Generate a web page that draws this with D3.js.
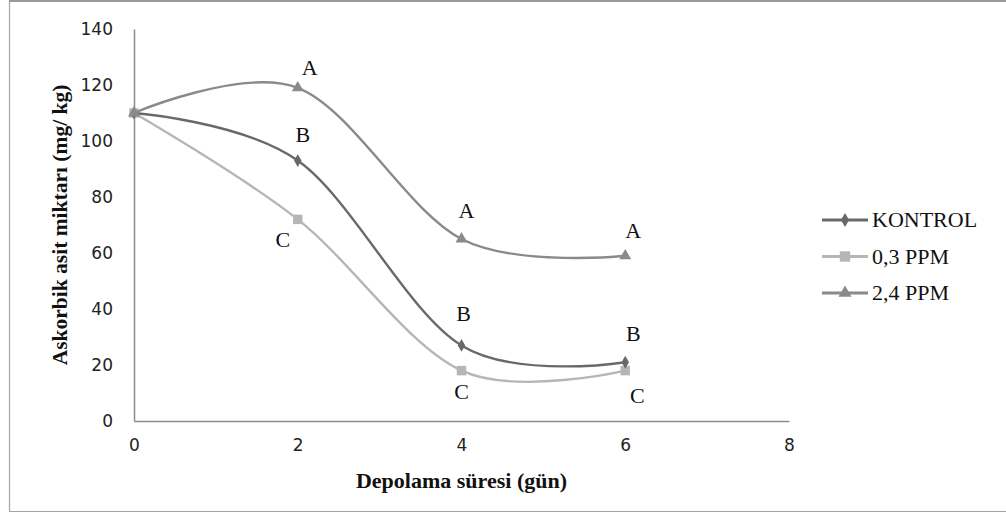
<!DOCTYPE html>
<html>
<head>
<meta charset="utf-8">
<script src="https://cdn.jsdelivr.net/npm/d3@7"></script>
<style>
  body { margin: 0; background: #fff; overflow: hidden; }
  svg { display: block; }
</style>
</head>
<body>
<div id="result"></div>
<script>
const width = 1006;
const height = 514;
const margin = { top: 29, right: 217, bottom: 93, left: 134 };

// data
const days = [0, 2, 4, 6];
const kontrol = [110, 93, 27, 21];
const ppm03 = [110, 72, 18, 18];
const ppm24 = [110, 119, 65, 59];
const seriesNames = ['KONTROL', '0,3 PPM', '2,4 PPM'];
const letters03 = [null, 'C', 'C', 'C'];
const lettersKontrol = [null, 'B', 'B', 'B'];
const letters24 = [null, 'A', 'A', 'A'];
const xTicks = [0, 2, 4, 6, 8];
const yTicks = [0, 20, 40, 60, 80, 100, 120, 140];

const serif = '"Liberation Serif", "DejaVu Serif", serif';

const series = [
    { name: seriesNames[0], values: kontrol, letters: lettersKontrol, color: '#696969', symbol: d3.symbolDiamond, size: 48, dy: [0, -26, -32, -29], dx: [0, 5, 2, 8] },
    { name: seriesNames[1], values: ppm03, letters: letters03, color: '#b6b6b6', symbol: d3.symbolSquare, size: 90, dy: [0, 20, 21, 25], dx: [0, -15, 0, 12] },
    { name: seriesNames[2], values: ppm24, letters: letters24, color: '#8a8a8a', symbol: d3.symbolTriangle, size: 62, dy: [0, -20, -28, -25], dx: [0, 12, 5, 8] }
];

const innerWidth = width - margin.left - margin.right;
const innerHeight = height - margin.top - margin.bottom;

const svg = d3.select('#result').append('svg')
    .attr('width', width)
    .attr('height', height);

// outer frame (open on the right)
svg.append('path')
    .attr('d', `M${width},1.5H9.5V511.5H${width}`)
    .attr('fill', 'none')
    .attr('stroke', '#a6a6a6')
    .attr('stroke-width', 1.2);
svg.append('line')
    .attr('x1', 9).attr('x2', width).attr('y1', 1).attr('y2', 1)
    .attr('stroke', '#999').attr('stroke-width', 2);

const g = svg.append('g')
    .attr('transform', `translate(${margin.left},${margin.top})`);

const xScale = d3.scaleLinear().domain([0, 8]).range([0, innerWidth]);
const yScale = d3.scaleLinear().domain([0, 140]).range([innerHeight, 0]);

// axes
const xAxis = g.append('g')
    .attr('transform', `translate(0,${innerHeight})`)
    .call(d3.axisBottom(xScale).tickValues(xTicks).tickSize(0).tickPadding(18));
const yAxis = g.append('g')
    .call(d3.axisLeft(yScale).tickValues(yTicks).tickSize(0).tickPadding(21));

[xAxis, yAxis].forEach(a => {
    a.select('.domain').attr('stroke', '#8c8c8c').attr('stroke-width', 1.5);
    a.selectAll('text')
        .attr('font-family', '"DejaVu Sans", sans-serif')
        .attr('font-size', 17)
        .attr('fill', '#222');
});

// smooth lines like the spreadsheet's smoothed line
const line = d3.line()
    .x((d, i) => xScale(days[i]))
    .y(d => yScale(d))
    .curve(d3.curveCardinal.tension(0));

// draw in order so the triangles sit on top at day 0
for (const s of [series[1], series[0], series[2]]) {
    g.append('path')
        .datum(s.values)
        .attr('fill', 'none')
        .attr('stroke', s.color)
        .attr('stroke-width', 2.4)
        .attr('d', line);

    g.selectAll(null)
        .data(s.values)
        .enter()
        .append('path')
            .attr('d', d3.symbol().type(s.symbol).size(s.size))
            .attr('transform', (d, i) => `translate(${xScale(days[i])},${yScale(d)})`)
            .attr('fill', s.color);
}

// significance letters
for (const s of series) {
    g.selectAll(null)
        .data(s.values.map((v, i) => [i, v]).filter(d => s.letters[d[0]]))
        .enter()
        .append('text')
            .attr('x', d => xScale(days[d[0]]) + s.dx[d[0]])
            .attr('y', d => yScale(d[1]) + s.dy[d[0]])
            .attr('dy', '0.34em')
            .attr('text-anchor', 'middle')
            .attr('font-family', serif)
            .attr('font-size', 22)
            .attr('fill', '#111')
            .text(d => s.letters[d[0]]);
}

// axis titles
svg.append('text')
    .attr('x', margin.left + xScale(4))
    .attr('y', 488)
    .attr('text-anchor', 'middle')
    .attr('font-family', serif)
    .attr('font-weight', 'bold')
    .attr('font-size', 22)
    .attr('fill', '#111')
    .text('Depolama süresi (gün)');

svg.append('text')
    .attr('transform', `translate(67,${margin.top + innerHeight / 2}) rotate(-90)`)
    .attr('text-anchor', 'middle')
    .attr('font-family', serif)
    .attr('font-weight', 'bold')
    .attr('font-size', 21.5)
    .attr('fill', '#111')
    .text('Askorbik asit miktarı (mg/ kg)');

// legend
const legend = svg.append('g').attr('transform', 'translate(822,220)');
series.forEach((s, i) => {
    const row = legend.append('g').attr('transform', `translate(0,${i * 36.5})`);
    row.append('line')
        .attr('x1', 0).attr('x2', 46)
        .attr('stroke', s.color).attr('stroke-width', 3);
    row.append('path')
        .attr('d', d3.symbol().type(s.symbol).size(s.size * 1.2))
        .attr('transform', 'translate(23,0)')
        .attr('fill', s.color);
    row.append('text')
        .attr('x', 50)
        .attr('dy', '0.34em')
        .attr('font-family', serif)
        .attr('font-size', 22)
        .attr('fill', '#111')
        .text(s.name);
});
</script>
</body>
</html>
